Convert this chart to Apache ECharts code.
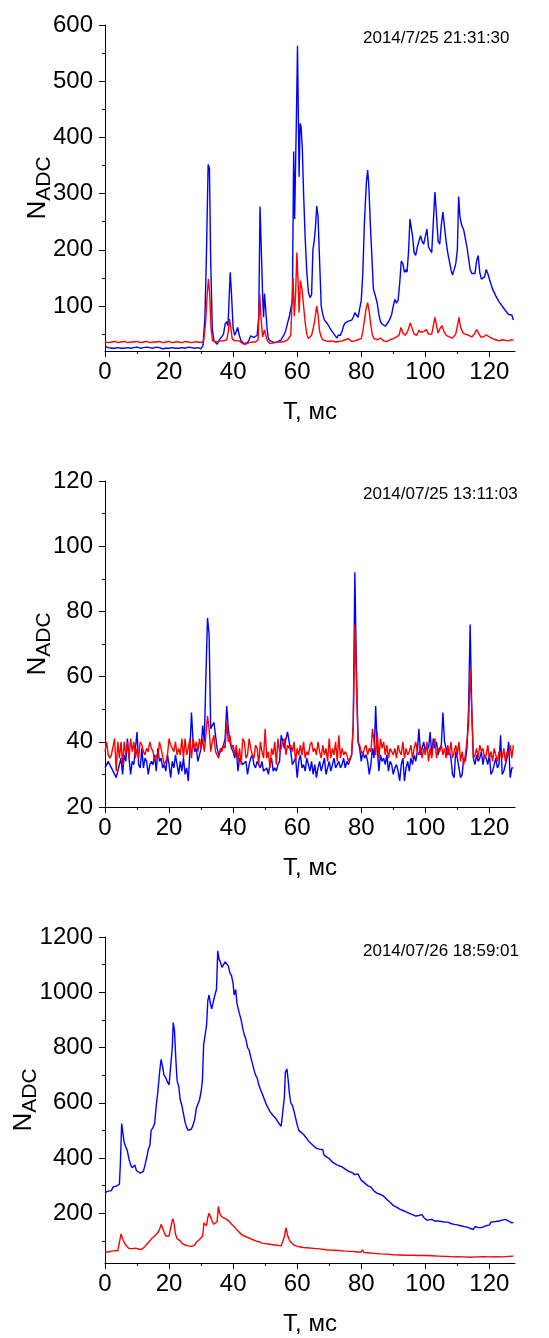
<!DOCTYPE html>
<html>
<head>
<meta charset="utf-8">
<script src="https://cdn.jsdelivr.net/npm/echarts@6/dist/echarts.min.js"></script>
<style>html,body{margin:0;padding:0;background:#fff;}#c{width:549px;height:1338px;}</style>
</head>
<body>
<div id="c"></div>
<script>
// ---------- data ----------
const xTicks = [0, 20, 40, 60, 80, 100, 120];
const xMinor = [10, 30, 50, 70, 90, 110];
const yTicks1 = [100, 200, 300, 400, 500, 600];
const yMinor1 = [50, 150, 250, 350, 450, 550];
const yTicks2 = [20, 40, 60, 80, 100, 120];
const yMinor2 = [30, 50, 70, 90, 110];
const yTicks3 = [200, 400, 600, 800, 1000, 1200];
const yMinor3 = [100, 300, 500, 700, 900, 1100];
const dates = ['2014/7/25 21:31:30', '2014/07/25 13:11:03', '2014/07/26 18:59:01'];

// Panel 1 [T, N]
const blue1 = [[0,28],[1,26],[2,25],[3,25],[4,26],[5,25],[6,25],[7,26],[8,25],[9,26],[10,27],[11,25],[12,26],[13,27],[14,26],[15,25],[16,27],[17,26],[18,24],[19,25],[20,25],[21,26],[22,25],[23,25],[24,26],[25,25],[26,27],[27,26],[28,25],[29,26],[30,24],[30.6,30],[31.2,80],[31.7,200],[32.2,352],[32.6,345],[33,180],[33.5,60],[34,38],[34.5,35],[35,32],[35.5,38],[36,42],[36.5,42],[37,50],[37.5,68],[38,72],[38.4,65],[38.8,120],[39.1,160],[39.5,120],[40,60],[40.5,48],[41,55],[41.4,62],[41.9,48],[42.5,38],[43,36],[43.5,33],[44,32],[44.5,35],[45,40],[45.5,47],[46,46],[46.5,44],[47,45],[47.5,48],[48,80],[48.4,277],[48.8,200],[49.2,120],[49.5,80],[49.8,122],[50.2,122],[50.6,60],[51,42],[51.5,38],[52,35],[53,35],[54,37],[55,40],[56,50],[56.5,58],[57,70],[57.5,80],[58,95],[58.5,110],[58.9,375],[59.2,255],[59.5,255],[59.8,450],[60.1,563],[60.4,420],[60.6,330],[60.9,425],[61.2,420],[61.6,380],[62,300],[62.5,220],[63,160],[63.5,125],[64,115],[64.5,120],[64.9,200],[65.3,215],[65.7,240],[66.1,278],[66.5,260],[67,180],[67.5,100],[68,85],[68.5,75],[69,72],[69.5,68],[70,65],[70.5,58],[71,55],[71.5,50],[72,48],[72.4,43],[72.8,48],[73.5,48],[74,55],[74.5,65],[75,70],[76,73],[77,75],[77.5,80],[78,88],[78.5,85],[79,80],[79.5,95],[80,110],[80.5,160],[81,250],[81.6,320],[82,342],[82.4,310],[82.8,250],[83.3,190],[83.8,130],[84.3,120],[85,105],[85.5,85],[86,72],[86.5,68],[87,68],[87.5,64],[88,68],[88.5,72],[89,78],[89.5,85],[90,100],[90.5,112],[91,105],[91.5,110],[92,140],[92.5,180],[93,175],[93.5,160],[94,165],[94.3,160],[94.8,200],[95.2,255],[95.6,255],[96,225],[96.5,195],[97,190],[97.5,205],[98,215],[98.5,225],[99,215],[99.5,210],[100,212],[100.5,237],[101,205],[101.5,200],[102,195],[102.5,250],[103,303],[103.5,260],[104,215],[104.5,210],[105,245],[105.5,267],[106,240],[106.5,215],[107,195],[107.5,180],[108,165],[108.5,155],[109,155],[109.5,175],[110,200],[110.4,295],[110.8,260],[111.3,245],[112,235],[112.5,220],[113,205],[113.5,185],[114,165],[114.5,158],[115,155],[115.5,158],[116,180],[116.5,190],[117,160],[117.5,148],[118,145],[118.5,152],[119,165],[119.5,158],[120,148],[121,130],[122,118],[123,108],[124,100],[125,92],[126,85],[126.5,82],[127,84],[127.5,75]];
const red1 = [[0,36],[1,35],[2,36],[3,37],[4,35],[5,36],[6,37],[7,35],[8,36],[9,36],[10,37],[11,35],[12,36],[13,37],[14,35],[15,36],[16,36],[17,37],[18,35],[19,36],[20,37],[21,35],[22,36],[23,36],[24,35],[25,37],[26,36],[27,35],[28,36],[29,36],[30,35],[30.8,38],[31.4,70],[31.9,120],[32.3,148],[32.7,120],[33.1,60],[33.6,38],[34,35],[35,36],[36,38],[37,38],[38,40],[38.5,55],[38.9,77],[39.3,60],[39.7,42],[40.5,38],[41,40],[42,38],[43,33],[43.5,30],[44,32],[45,35],[46,36],[47,36],[47.8,40],[48.3,122],[48.7,80],[49.2,45],[49.8,58],[50.2,48],[50.7,38],[51.5,33],[52,36],[53,35],[54,36],[55,36],[56,37],[57,40],[58,48],[58.7,150],[59.1,82],[59.5,120],[59.9,195],[60.3,140],[60.6,88],[61,145],[61.5,130],[62,100],[62.5,70],[63,50],[63.5,42],[64,40],[64.5,48],[65,60],[65.4,72],[65.8,75],[66.1,100],[66.5,85],[67,55],[67.5,45],[68,40],[69,38],[70,37],[71,38],[72,36],[73,37],[74,38],[75,40],[76,42],[77,37],[78,38],[79,40],[80,42],[80.5,55],[81,75],[81.5,95],[82,106],[82.5,90],[83,65],[83.5,48],[84,42],[85,40],[86,43],[87,38],[88,37],[89,40],[90,42],[91,45],[91.8,48],[92.4,62],[93,52],[93.7,48],[94.5,55],[95.3,70],[95.8,68],[96.5,50],[97.3,48],[98,57],[98.7,53],[99.5,55],[100.3,58],[101,50],[102,50],[102.5,65],[103,80],[103.5,65],[104,52],[104.6,60],[105.2,65],[105.8,55],[106.5,48],[107.5,45],[108.5,43],[109.5,50],[110.2,70],[110.5,80],[111,62],[111.8,52],[112.5,50],[113.5,48],[114.5,45],[115.3,50],[116,58],[116.6,55],[117.3,45],[118.2,45],[119,49],[120,45],[121,42],[122,40],[123,38],[124,40],[125,39],[126,38],[127,40],[127.5,40]];

// Panel 2: samples every 0.5 ms starting at T = 0
const step2 = 0.5;
const blue2 = [32,32,34,33,32,31,30,29,31,33,35,30,36,34,41,35,30,34,33,38,
43,33,32,38,32,35,34,30,33,34,33,36,31,38,34,35,32,33,31,36,
33,29,34,32,36,33,30,34,31,35,30,32,28,37,49,40,37,38,34,36,
38,45,40,60,78,73,44,45,46,42,38,36,37,38,39,41,51,44,40,38,
37,35,38,31,35,34,33,33,34,30,33,35,36,33,32,34,33,32,34,31,
31,32,30,33,35,31,32,31,33,34,42,40,38,41,43,40,37,33,34,35,
29,34,36,32,33,31,35,33,31,34,30,33,29,32,34,31,33,35,30,32,
34,31,33,35,32,33,34,32,33,35,32,34,33,33,36,45,92,62,40,38,
34,37,35,36,34,30,33,38,35,51,38,31,36,34,35,33,36,31,34,33,
30,32,33,31,28,33,35,28,32,34,31,35,33,36,34,37,44,36,38,40,
37,39,38,43,36,41,38,40,36,38,39,49,40,38,36,37,35,30,29,37,
35,32,29,30,35,34,38,50,76,50,35,33,36,34,35,37,33,36,35,33,
36,30,31,33,35,32,33,42,30,31,33,35,40,29,32,32];
const red2 = [37,40,36,35,36,36,41,31,40,35,40,33,40,36,40,35,41,37,40,35,
38,35,40,39,37,36,38,37,40,38,37,34,36,35,40,38,38,33,34,36,
41,39,38,37,40,36,38,36,41,35,41,36,38,41,35,41,38,40,37,41,
38,41,37,42,48,44,37,40,42,37,36,35,38,37,39,38,46,40,42,38,
39,36,39,34,38,33,41,40,35,36,41,38,36,35,39,38,33,40,37,35,
44,35,37,32,38,36,40,33,41,37,38,40,41,36,39,38,39,37,40,34,
38,36,39,36,40,35,37,36,39,40,37,38,36,40,37,35,39,36,38,34,
41,35,38,36,40,34,42,35,38,36,37,36,34,35,36,45,76,58,40,39,
37,36,38,39,36,38,37,44,40,36,43,35,41,38,40,36,39,35,38,37,
36,38,35,39,37,36,40,35,38,36,37,39,35,38,40,37,36,39,35,38,
36,40,34,38,35,39,41,35,38,37,39,36,38,35,39,36,40,35,37,39,
36,40,34,37,33,36,36,45,62,50,35,36,38,35,39,37,38,35,36,39,
35,37,34,38,36,34,37,36,35,38,34,37,36,39,35,39];

// Panel 3 [T, N]
const blue3 = [[0,275],[0.5,272],[1,280],[1.5,278],[2,282],[2.5,295],[3,300],[3.5,298],[4,302],[4.5,305],[4.8,380],[5.2,525],[5.6,490],[6,455],[6.5,440],[7,425],[7.5,395],[8,375],[8.5,365],[9,370],[9.3,375],[9.8,355],[10.3,350],[11,345],[11.5,348],[12,352],[12.5,375],[13,400],[13.5,430],[14,445],[14.4,500],[15,510],[15.5,525],[16,590],[16.5,640],[17,705],[17.5,757],[18,730],[18.4,700],[19,690],[19.5,675],[20,665],[20.6,660],[21,800],[21.3,890],[21.7,860],[22.1,760],[22.5,680],[23,660],[23.5,610],[24,590],[24.5,560],[25,530],[25.5,510],[26,500],[26.5,500],[27,505],[27.5,520],[28,540],[28.5,580],[29,595],[29.5,610],[30,640],[30.4,680],[30.8,810],[31.3,815],[31.7,880],[32.1,970],[32.5,990],[32.9,960],[33.3,940],[33.8,945],[34.3,990],[34.8,1010],[35.2,1150],[35.6,1120],[36,1110],[36.5,1090],[37,1085],[37.5,1110],[38,1108],[38.5,1095],[39,1070],[39.5,1060],[40,1030],[40.3,990],[40.8,1010],[41.2,960],[41.8,930],[42.5,900],[43,870],[43.5,845],[44,830],[44.5,800],[45,790],[45.5,765],[46,760],[46.5,720],[47,700],[47.5,690],[48,665],[48.5,650],[49,635],[49.5,620],[50,605],[50.5,590],[51,580],[51.5,568],[52,570],[52.4,555],[52.8,560],[53.2,545],[53.8,540],[54.3,525],[55,515],[55.6,510],[56,620],[56.3,710],[56.8,722],[57.2,680],[57.6,630],[58,600],[58.5,590],[59,570],[59.5,545],[60,520],[60.5,500],[61,495],[62,485],[63,470],[63.5,462],[64,460],[65,445],[65.5,440],[66,435],[66.5,430],[67,432],[67.5,425],[68,430],[68.3,412],[69,405],[69.5,400],[70,398],[71,385],[72,378],[73,372],[73.5,372],[74,368],[74.5,372],[75,360],[76,352],[77,348],[78,340],[78.5,338],[79,342],[79.5,330],[80,320],[81,310],[82,300],[83,295],[84,280],[85,272],[86,268],[87,262],[88,250],[89,240],[90,228],[91,222],[92,215],[93,210],[94,205],[95,200],[96,195],[97,190],[98,192],[98.5,188],[99,195],[99.5,185],[100,182],[100.5,175],[101,180],[102,178],[103,172],[104,172],[105,170],[106,168],[107,168],[108,163],[109,160],[110,158],[111,155],[112,152],[113,150],[114,145],[114.5,140],[115,142],[115.5,152],[116,150],[116.5,148],[117,142],[117.5,148],[118,155],[119,155],[120,158],[120.5,168],[121,170],[122,170],[123,172],[124,175],[125,178],[125.5,172],[126,172],[126.5,170],[127,165],[127.5,167]];
const red3 = [[0,60],[1,60],[1.5,62],[2,63],[3,64],[4,65],[4.5,68],[5,125],[5.5,108],[6,95],[6.5,85],[7,80],[7.5,72],[8,70],[8.5,72],[9,76],[9.5,74],[10,68],[10.5,70],[11,68],[11.5,70],[12,74],[12.5,80],[13,88],[13.5,95],[14,100],[14.5,108],[15,112],[15.5,118],[16,122],[16.5,130],[17,140],[17.5,160],[18,145],[18.5,130],[19,118],[19.5,115],[20,118],[20.5,115],[20.9,170],[21.2,180],[21.6,160],[22,125],[22.5,108],[23,105],[23.5,100],[24,92],[25,85],[26,82],[27,80],[27.5,82],[28,85],[28.5,95],[29,100],[29.5,105],[30,110],[30.5,118],[30.9,165],[31.3,160],[31.7,155],[32.1,185],[32.5,200],[33,185],[33.5,170],[34,160],[34.5,165],[35,170],[35.4,225],[35.8,200],[36.2,190],[37,183],[37.5,180],[38,178],[38.5,172],[39,168],[39.5,160],[40,155],[40.5,150],[41,142],[41.5,140],[42,130],[42.5,125],[43,120],[44,115],[44.5,112],[45,110],[46,105],[47,100],[48,97],[49,92],[50,90],[51,89],[52,87],[53,85],[53.5,88],[54,84],[55,82],[55.5,80],[56,115],[56.5,148],[57,120],[57.5,105],[58,95],[58.5,90],[59,85],[60,80],[61,78],[62,76],[63,75],[65,73],[67,71],[69,68],[70,67],[72,66],[75,63],[77,62],[79,60],[80,60],[80.4,68],[80.8,58],[82,57],[84,55],[86,53],[88,52],[90,50],[92,49],[94,48],[96,48],[98,47],[100,47],[102,46],[104,45],[106,44],[106.5,47],[107,44],[109,42],[110,43],[112,42],[114,41],[116,42],[118,43],[120,42],[122,43],[124,42],[126,44],[127.5,45]];

// ---------- chart ----------
const FONT = "'Liberation Sans', Arial, sans-serif";
const GRID_TOPS = [25, 481, 937];
const GRID_H = 326;
const ranges = [[20, 600], [20, 120], [20, 1200]];
const majors = [yTicks1, yTicks2, yTicks3];
const minors = [yMinor1, yMinor2, yMinor3];
const yNameGaps = [50, 50, 64];

const grids = GRID_TOPS.map(t => ({ left: 105, top: t, width: 410, height: GRID_H, containLabel: false, outerBoundsMode: 'none' }));
const xAxes = [], yAxes = [];
for (let g = 0; g < 3; g++) {
  xAxes.push({
    type: 'value', gridIndex: g, position: 'bottom', min: 0, max: 128,
    axisLine: { show: true, lineStyle: { color: '#000', width: 1 } },
    axisTick: { show: true, length: 6, customValues: xTicks, lineStyle: { color: '#000' } },
    axisLabel: { customValues: xTicks, fontSize: 24, color: '#000', fontFamily: FONT, margin: 9, formatter: v => String(v) },
    splitLine: { show: false },
    name: 'T, мс', nameLocation: 'middle', nameGap: 49, nameMoveOverlap: false,
    nameTextStyle: { fontSize: 24, color: '#000', fontFamily: FONT }
  });
  xAxes.push({
    type: 'value', gridIndex: g, position: 'bottom', min: 0, max: 128,
    axisLine: { show: false },
    axisTick: { show: true, length: 3, customValues: xMinor, lineStyle: { color: '#000' } },
    axisLabel: { show: false }, splitLine: { show: false }
  });
  yAxes.push({
    type: 'value', gridIndex: g, position: 'left', min: ranges[g][0], max: ranges[g][1],
    axisLine: { show: true, lineStyle: { color: '#000', width: 1 } },
    axisTick: { show: true, length: 6, customValues: majors[g], lineStyle: { color: '#000' } },
    axisLabel: { customValues: majors[g], fontSize: 24, color: '#000', fontFamily: FONT, margin: 12, formatter: v => String(v) },
    splitLine: { show: false },
    name: '{n|N}{s|ADC}', nameLocation: 'middle', nameRotate: 90, nameGap: yNameGaps[g], nameMoveOverlap: false,
    nameTextStyle: {
      rich: {
        n: { fontSize: 26, fontFamily: FONT, color: '#000', lineHeight: 30, verticalAlign: 'top' },
        s: { fontSize: 21, fontFamily: FONT, color: '#000', lineHeight: 30, verticalAlign: 'top', padding: [9, 0, 0, 0] }
      }
    }
  });
  yAxes.push({
    type: 'value', gridIndex: g, position: 'left', min: ranges[g][0], max: ranges[g][1],
    axisLine: { show: false },
    axisTick: { show: true, length: 3, customValues: minors[g], lineStyle: { color: '#000' } },
    axisLabel: { show: false }, splitLine: { show: false }
  });
}

const toPairs = (arr, step) => arr.map((v, i) => [i * step, v]);
const mk = (data, color, g) => ({
  type: 'line', data, xAxisIndex: g * 2, yAxisIndex: g * 2, showSymbol: false, symbol: 'none',
  lineStyle: { color, width: 1.4 }, itemStyle: { color }, animation: false, silent: true
});

const series = [
  mk(blue1, '#0000ff', 0), mk(red1, '#ff0000', 0),
  mk(toPairs(blue2, step2), '#0000ff', 1), mk(toPairs(red2, step2), '#ff0000', 1),
  mk(blue3, '#0000ff', 2), mk(red3, '#ff0000', 2)
];

const dateTops = [30, 486, 943];
const graphic = dates.map((d, i) => ({
  type: 'text', left: 363, top: dateTops[i],
  style: { text: d, fontSize: 17, fontFamily: FONT, fill: '#000' }
}));

const chart = echarts.init(document.getElementById('c'), null, { renderer: 'canvas' });
chart.setOption({
  animation: false,
  backgroundColor: '#fff',
  grid: grids, xAxis: xAxes, yAxis: yAxes, series, graphic
});
</script>
</body>
</html>
